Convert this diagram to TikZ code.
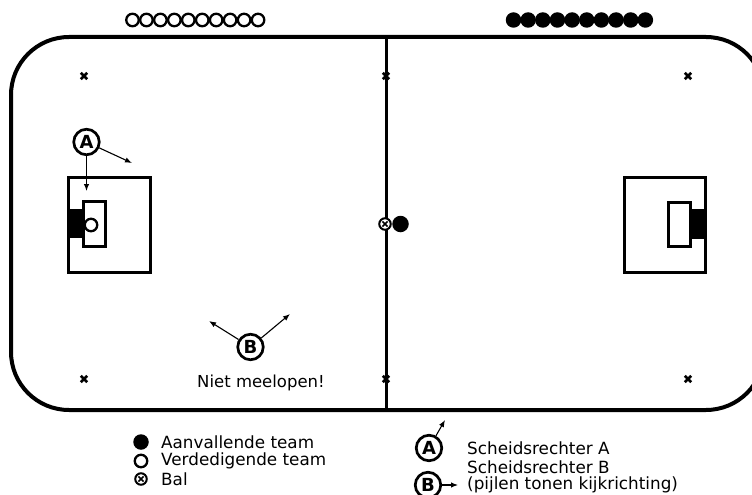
\documentclass[tikz,border=0pt]{standalone}
\usepackage{fontspec}
\setmainfont{DejaVu Sans}
\usetikzlibrary{arrows.meta}

\begin{document}
\begin{tikzpicture}[x=1pt,y=-1pt,
  fieldline/.style={line width=4pt},
  midline/.style={line width=3pt},
  boxline/.style={draw, line width=3pt},
  goalfill/.style={fill=black},
  refnode/.style={circle, draw, fill=white, line width=2.7pt, minimum size=25.5pt,
    inner sep=0pt, font=\bfseries\fontsize{18}{18}\selectfont},
  openp/.style={circle, draw, line width=2.3pt, minimum size=12.5pt, inner sep=0pt},
  fullp/.style={circle, fill, minimum size=15.5pt, inner sep=0pt},
  ballp/.style={circle, draw, fill=white, line width=2pt, minimum size=11.5pt, inner sep=0pt,
    path picture={\draw[line width=1.6pt]
      ([shift={(-2.6pt,-2.6pt)}]path picture bounding box.center) -- ([shift={(2.6pt,2.6pt)}]path picture bounding box.center)
      ([shift={(-2.6pt,2.6pt)}]path picture bounding box.center) -- ([shift={(2.6pt,-2.6pt)}]path picture bounding box.center);}},
  view/.style={-{Latex[length=7pt,width=5.5pt]}, line width=1.1pt},
  lbl/.style={anchor=west, inner sep=0pt, font=\fontsize{16.8}{19}\selectfont},
  xmark/.pic={\draw[line width=2.6pt] (-3.2,-3.2) -- (3.2,3.2) (-3.2,3.2) -- (3.2,-3.2);}
]
\useasboundingbox (0,0) rectangle (752,495);
\clip (0,0) rectangle (752,495);

% pitch outline and centre line
\draw[fieldline, rounded corners=58pt] (11,37) rectangle (764,410);
\draw[midline] (386,37) -- (386,410);

% corner and centre marks
\foreach \px/\py in {84/76, 386/76, 688/76, 84/379, 386/379, 688/379}
  \pic at (\px,\py) {xmark};

% left goal area
\draw[boxline] (68,177) rectangle (150,272);
\fill[goalfill] (69,209) rectangle (83,238);
\draw[boxline] (83,201) rectangle (105,246);

% right goal area
\draw[boxline] (624,177) rectangle (705,272);
\fill[goalfill] (690,209) rectangle (704,239);
\draw[boxline] (668,202) rectangle (690,246);

% players lined up
\foreach \i in {0,...,9}
  \node[openp] (def\i) at (132.5+13.95*\i,20) {};
\foreach \i in {0,...,9}
  \node[fullp] (att\i) at (513.5+14.65*\i,20) {};

% goalkeeper, ball and kick-off player
\node[openp] (keeper) at (91,225) {};
\node[ballp] (ball) at (385,224) {};
\node[fullp, minimum size=16.5pt] (kicker) at (400.5,224) {};

% referee A with viewing directions
\node[refnode] (refA) at (86.5,142) {A};
\coordinate (lookA1) at (86.5,191);
\coordinate (lookA2) at (132,163);
\draw[view] (refA) -- (lookA1);
\draw[view] (refA) -- (lookA2);

% referee B with viewing directions
\node[refnode] (refB) at (250.5,347) {B};
\coordinate (lookB1) at (209,321);
\coordinate (lookB2) at (290,314);
\draw[view] (refB) -- (lookB1);
\draw[view] (refB) -- (lookB2);
\node[lbl, anchor=center, font=\fontsize{16.5}{19}\selectfont] (note) at (261,383) {Niet meelopen!};

% legend: players and ball
\node[fullp] (keyatt) at (141,442) {};
\node[lbl] (txtatt) at (161,442) {Aanvallende team};
\node[openp] (keydef) at (141,461) {};
\node[lbl] (txtdef) at (161,461) {Verdedigende team};
\node[ballp] (keyball) at (141,479) {};
\node[lbl] (txtball) at (161,479) {Bal};

% legend: referees
\node[refnode] (keyA) at (429,448) {A};
\coordinate (keyAlook) at (445,420);
\draw[view] (keyA) -- (keyAlook);
\node[refnode] (keyB) at (428,485) {B};
\coordinate (keyBlook) at (458,485);
\draw[view] (keyB) -- (keyBlook);
\node[lbl] (txtA) at (467,448) {Scheidsrechter A};
\node[lbl] (txtB) at (467,467) {Scheidsrechter B};
\node[lbl] (txtview) at (467,485) {(pijlen tonen kijkrichting)};
\end{tikzpicture}
\end{document}
